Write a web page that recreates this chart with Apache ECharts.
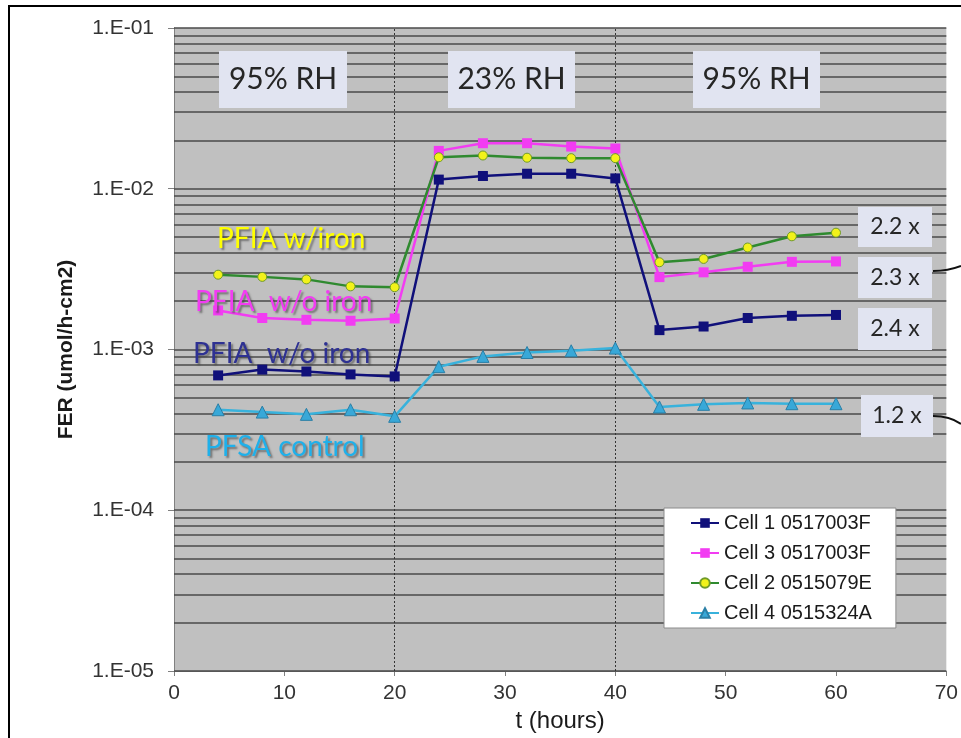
<!DOCTYPE html>
<html>
<head>
<meta charset="utf-8">
<script src="https://cdn.jsdelivr.net/npm/echarts@6/dist/echarts.min.js"></script>
<style>
  html, body { margin: 0; padding: 0; background: #fff; }
  #chart { width: 961px; height: 738px; }
</style>
</head>
<body>
<div id="chart"></div>
<script>
const hours = [4, 8, 12, 16, 20, 24, 28, 32, 36, 40, 44, 48, 52, 56, 60];

const cell1 = [6.9e-4, 7.5e-4, 7.3e-4, 7.0e-4, 6.8e-4, 1.14e-2, 1.20e-2, 1.24e-2, 1.24e-2, 1.16e-2, 1.32e-3, 1.39e-3, 1.57e-3, 1.62e-3, 1.64e-3];
const cell3 = [1.75e-3, 1.57e-3, 1.53e-3, 1.51e-3, 1.56e-3, 1.72e-2, 1.92e-2, 1.92e-2, 1.83e-2, 1.78e-2, 2.82e-3, 3.02e-3, 3.27e-3, 3.51e-3, 3.53e-3];
const cell2 = [2.92e-3, 2.83e-3, 2.73e-3, 2.47e-3, 2.44e-3, 1.57e-2, 1.61e-2, 1.56e-2, 1.55e-2, 1.55e-2, 3.49e-3, 3.66e-3, 4.31e-3, 5.06e-3, 5.33e-3];
const cell4 = [4.22e-4, 4.08e-4, 3.95e-4, 4.22e-4, 3.84e-4, 7.82e-4, 9.06e-4, 9.58e-4, 9.82e-4, 1.02e-3, 4.39e-4, 4.56e-4, 4.65e-4, 4.6e-4, 4.6e-4];

const seriesNames = ["Cell 1 0517003F", "Cell 3 0517003F", "Cell 2 0515079E", "Cell 4 0515324A"];

// phase boundaries (hours) and gridline decades
const phaseBreaks = [20, 40];
const decades = [1e-5, 1e-4, 1e-3, 1e-2];
const multipliers = [1, 2, 3, 4, 5, 6, 7, 8, 9];

const gridValues = [];
decades.forEach((d) => multipliers.forEach((m) => gridValues.push(d * m)));
gridValues.push(1e-1);

const pairs = (ys) => hours.map((h, i) => [h, ys[i]]);

const chart = echarts.init(document.getElementById("chart"));

const labelFont = "Lato, 'Open Sans', sans-serif";
const shadow = {
  textShadowColor: "rgba(60,60,60,0.6)",
  textShadowBlur: 2,
  textShadowOffsetX: 2,
  textShadowOffsetY: 2,
};

function box(x, y, w, h, text, size) {
  return {
    type: "group",
    x: x,
    y: y,
    z: 50,
    children: [
      { type: "rect", z: 50, shape: { x: 0, y: 0, width: w, height: h }, style: { fill: "#e1e4f1" } },
      {
        type: "text",
        z: 51,
        x: w / 2,
        y: h / 2,
        style: { text: text, font: size + "px " + labelFont, fill: "#262626", align: "center", verticalAlign: "middle" },
      },
    ],
  };
}

function tag(x, y, text, color) {
  return {
    type: "text",
    x: x,
    y: y,
    z: 50,
    style: Object.assign({ text: text, font: "28px " + labelFont, fill: color, verticalAlign: "middle" }, shadow),
  };
}

chart.setOption({
  animation: false,
  grid: {
    left: 174,
    right: 11,
    top: 28,
    bottom: 62,
    show: true,
    backgroundColor: "#c0c0c0",
    borderWidth: 0,
  },
  legend: {
    data: seriesNames,
    orient: "vertical",
    left: 664,
    top: 508,
    z: 20,
    padding: [5, 24, 5, 26],
    itemGap: 10,
    itemWidth: 28,
    itemHeight: 12,
    backgroundColor: "#ffffff",
    borderColor: "#8c8c8c",
    borderWidth: 1,
    borderRadius: 0,
    textStyle: { fontFamily: "Arial, 'Liberation Sans'", fontSize: 20, color: "#1a1a1a", lineHeight: 20, padding: [0, 0, 0, 0] },
  },
  xAxis: {
    type: "value",
    min: 0,
    max: 70,
    interval: 10,
    name: "t (hours)",
    nameLocation: "middle",
    nameGap: 38,
    nameTextStyle: { fontFamily: "Arial, 'Liberation Sans'", fontSize: 24, color: "#1a1a1a" },
    axisLine: { lineStyle: { color: "#808080", width: 1 } },
    axisTick: { show: true, length: 5, lineStyle: { color: "#808080" } },
    axisLabel: { margin: 12, fontFamily: "Arial, 'Liberation Sans'", fontSize: 21, color: "#333" },
    splitLine: { show: false },
  },
  yAxis: {
    type: "log",
    logBase: 10,
    min: 1e-5,
    max: 1e-1,
    name: "FER (umol/h-cm2)",
    nameLocation: "middle",
    nameGap: 97,
    nameTextStyle: { fontFamily: "Arial, 'Liberation Sans'", fontSize: 21, fontWeight: "bold", color: "#1a1a1a" },
    axisLine: { show: true, lineStyle: { color: "#808080", width: 1 } },
    axisTick: { show: true, length: 6, lineStyle: { color: "#808080" } },
    axisLabel: {
      margin: 20,
      fontFamily: "Arial, 'Liberation Sans'",
      fontSize: 21,
      color: "#333",
      formatter: (v) => {
        const e = Math.round(Math.log10(v));
        return "1.E-" + String(-e).padStart(2, "0");
      },
    },
    splitLine: { show: false },
  },
  series: [
    {
      name: "gridlines",
      type: "line",
      data: [],
      z: 1,
      silent: true,
      markLine: {
        z: 1,
        silent: true,
        precision: 12,
        symbol: "none",
        label: { show: false },
        lineStyle: { color: "#4a4a4a", width: 1.5, type: "solid" },
        data: gridValues.map((v) => ({ yAxis: v })),
      },
    },
    {
      name: "phases",
      type: "line",
      data: [],
      z: 2,
      silent: true,
      markLine: {
        z: 2,
        silent: true,
        symbol: "none",
        label: { show: false },
        lineStyle: { color: "#333", width: 1, type: [2, 2] },
        data: phaseBreaks.map((v) => ({ xAxis: v })),
      },
    },
    {
      name: seriesNames[0],
      type: "line",
      data: pairs(cell1),
      z: 5,
      symbol: "rect",
      symbolSize: 10,
      lineStyle: { color: "#10107a", width: 2.5 },
      itemStyle: { color: "#10107a" },
    },
    {
      name: seriesNames[1],
      type: "line",
      data: pairs(cell3),
      z: 4,
      symbol: "rect",
      symbolSize: 10,
      lineStyle: { color: "#f23cf2", width: 2.5 },
      itemStyle: { color: "#f23cf2" },
    },
    {
      name: seriesNames[2],
      type: "line",
      data: pairs(cell2),
      z: 5,
      symbol: "circle",
      symbolSize: 9,
      lineStyle: { color: "#2f8a2f", width: 2.5 },
      itemStyle: { color: "#f2f21a", borderColor: "#6f9a2a", borderWidth: 1 },
    },
    {
      name: seriesNames[3],
      type: "line",
      data: pairs(cell4),
      z: 5,
      symbol: "triangle",
      symbolSize: 12,
      lineStyle: { color: "#38b2dc", width: 2.5 },
      itemStyle: { color: "#38a8d8", borderColor: "#2a7fa6", borderWidth: 1 },
    },
  ],
  graphic: [
    {
      type: "rect",
      z: 100,
      shape: { x: 9, y: 6, width: 1200, height: 1000 },
      style: { fill: "none", stroke: "#000", lineWidth: 2 },
      silent: true,
    },
    box(219, 51, 128, 57, "95% RH", 30),
    box(448, 51, 127, 57, "23% RH", 30),
    box(693, 51, 127, 57, "95% RH", 30),
    box(858, 207, 74, 40, "2.2 x", 23),
    box(858, 257, 74, 41, "2.3 x", 23),
    box(858, 308, 74, 42, "2.4 x", 23),
    box(861, 395, 72, 42, "1.2 x", 23),
    {
      type: "bezierCurve",
      z: 60,
      shape: { x1: 933, y1: 271, x2: 961, y2: 266, cpx1: 948, cpy1: 271 },
      style: { stroke: "#111", lineWidth: 2, fill: "none" },
    },
    {
      type: "bezierCurve",
      z: 60,
      shape: { x1: 933, y1: 416, x2: 961, y2: 424, cpx1: 950, cpy1: 416 },
      style: { stroke: "#111", lineWidth: 2, fill: "none" },
    },
    tag(217, 239, "PFIA w/iron", "#ffff00"),
    tag(195, 302, "PFIA  w/o iron", "#f23cf2"),
    tag(193, 354, "PFIA  w/o iron", "#2e3192"),
    tag(205, 447, "PFSA control", "#1fb0ea"),
  ],
});
</script>
</body>
</html>
